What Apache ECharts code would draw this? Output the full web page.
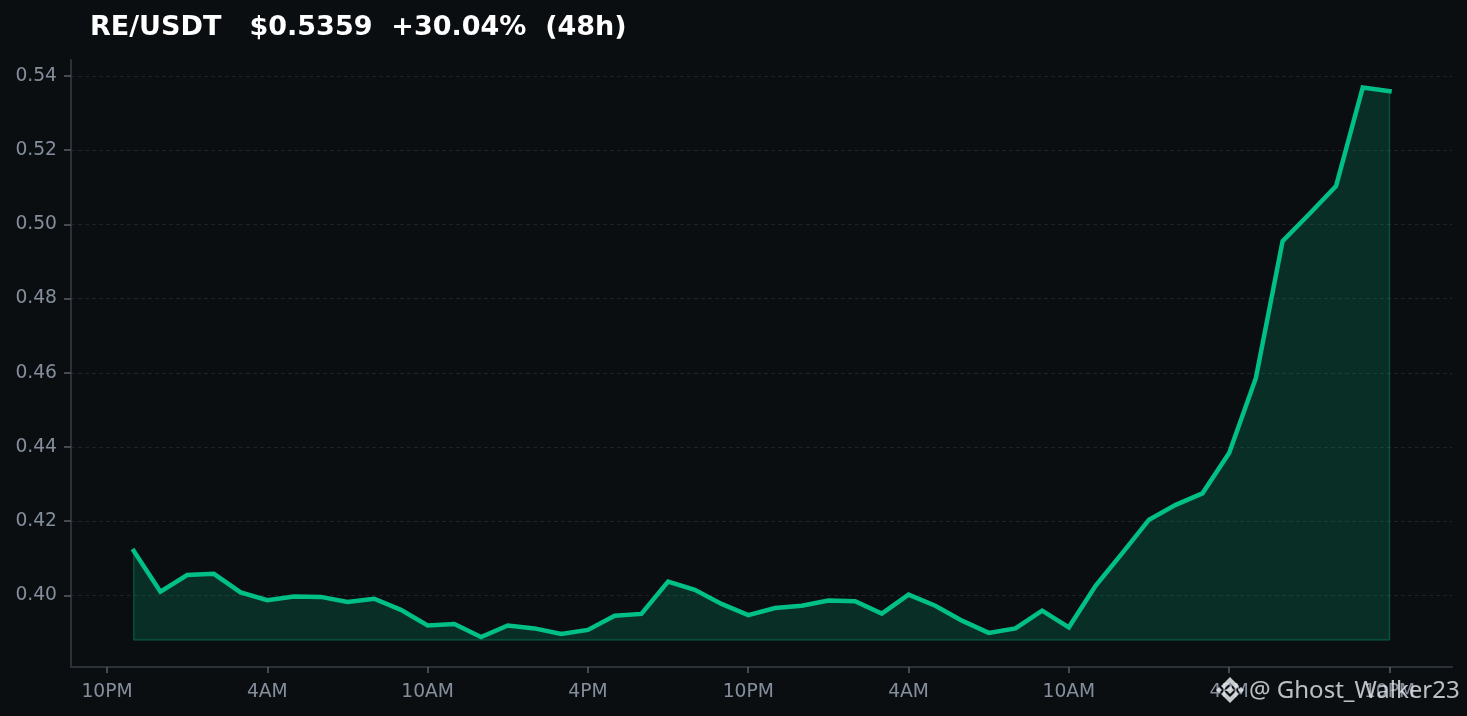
<!DOCTYPE html>
<html><head><meta charset="utf-8">
<style>html,body{margin:0;padding:0;background:#0b0e11}#c{width:1467px;height:716px}</style>
<script src="https://cdn.jsdelivr.net/npm/echarts@6/dist/echarts.min.js"></script></head>
<body><div id="c"></div>
<script>
const titleText = 'RE/USDT   $0.5359  +30.04%  (48h)';
const watermark = '@ Ghost_Walker23';
const tickHours = [0, 6, 12, 18, 24, 30, 36, 42, 48];
const tickLabels = ['10PM','4AM','10AM','4PM','10PM','4AM','10AM','4PM','10PM'];
const yTicks = [0.40, 0.42, 0.44, 0.46, 0.48, 0.50, 0.52, 0.54];
const hours = [1,2,3,4,5,6,7,8,9,10,11,12,13,14,15,16,17,18,19,20,21,22,23,24,25,26,27,28,29,30,31,32,33,34,35,36,37,38,39,40,41,42,43,44,45,46,47,48];
const prices = [0.4120,0.4010,0.4055,0.4058,0.4008,0.3987,0.3997,0.3996,0.3982,0.3991,0.3961,0.3919,0.3923,0.3888,0.3919,0.3911,0.3896,0.3907,0.3945,0.3950,0.4037,0.4015,0.3977,0.3947,0.3966,0.3972,0.3986,0.3984,0.3951,0.4002,0.3972,0.3932,0.3899,0.3911,0.3959,0.3914,0.4026,0.4114,0.4204,0.4244,0.4275,0.4384,0.4586,0.4955,0.5028,0.5103,0.5369,0.5359];
const fillBase = 0.388;

const line = hours.map((h,i)=>[h,prices[i]]);
const edge = [[hours[0],prices[0]],[hours[0],fillBase],[hours[hours.length-1],fillBase],[hours[hours.length-1],prices[prices.length-1]]];
const chart = echarts.init(document.getElementById('c'), null, {renderer:'canvas'});
const font = 'DejaVu Sans';
const ink = 'rgba(234,236,239,0.85)';
chart.setOption({
  animation:false,
  backgroundColor:'#0b0e11',
  title:{text:titleText,left:85,top:9,textStyle:{color:'#ffffff',fontFamily:font,fontWeight:'bold',fontSize:27}},
  grid:{left:71,top:60,width:1381,height:607,containLabel:false},
  xAxis:{type:'value',min:-1.348,max:50.34,
    axisLine:{show:true,onZero:false,lineStyle:{color:'#2b3139',width:2}},
    axisTick:{show:true,length:6,customValues:tickHours,lineStyle:{color:'#5a6068',width:1.5}},
    axisLabel:{color:'#848e9c',fontFamily:font,fontSize:18.7,margin:16,customValues:tickHours,
      formatter:v=>tickLabels[tickHours.indexOf(v)]},
    splitLine:{show:false}},
  yAxis:{type:'value',min:0.3807,max:0.5443,
    axisLine:{show:true,onZero:false,lineStyle:{color:'#2b3139',width:2}},
    axisTick:{show:true,length:7,customValues:yTicks,lineStyle:{color:'#5a6068',width:1.5}},
    axisLabel:{color:'#848e9c',fontFamily:font,fontSize:18.7,margin:14,customValues:yTicks,
      padding:[5,0,0,0],formatter:v=>v.toFixed(2)},
    splitLine:{show:true,lineStyle:{color:'#1e2329',width:1,type:[4,3]}}},
  series:[
    {type:'line',data:line,showSymbol:false,symbol:'none',z:3,
      lineStyle:{color:'#00c087',width:4.5,join:'miter',cap:'square'},
      areaStyle:{color:'#00c087',opacity:0.18,origin:fillBase}},
    {type:'line',data:edge,showSymbol:false,symbol:'none',z:2,
      lineStyle:{color:'#00c087',width:1.5,opacity:0.3}}
  ],
  graphic:[
    {type:'text',left:1249,top:679,z:100,style:{text:watermark,fill:'rgba(234,236,239,0.8)',font:'24px "Noto Sans"'}},
    {type:'polygon',z:100,shape:{points:[[1230,677],[1239,686],[1236,689],[1230,683],[1224,689],[1221,686]]},style:{fill:ink}},
    {type:'polygon',z:100,shape:{points:[[1230,703],[1239,694],[1236,691],[1230,697],[1224,691],[1221,694]]},style:{fill:ink}},
    {type:'polygon',z:100,shape:{points:[[1230,686],[1234,690],[1230,694],[1226,690]]},style:{fill:ink}},
    {type:'polygon',z:100,shape:{points:[[1219,687],[1222,690],[1219,693],[1216,690]]},style:{fill:ink}},
    {type:'polygon',z:100,shape:{points:[[1241,687],[1244,690],[1241,693],[1238,690]]},style:{fill:ink}}
  ]
});
</script></body></html>
